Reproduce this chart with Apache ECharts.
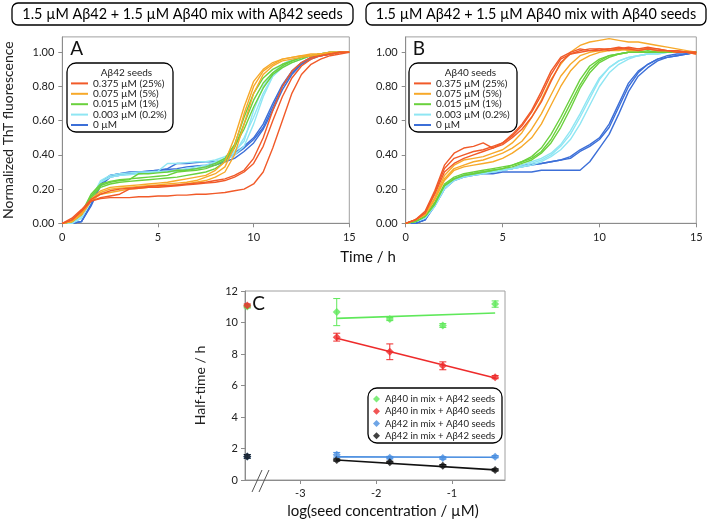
<!DOCTYPE html>
<html>
<head>
<meta charset="utf-8">
<title>ThT aggregation kinetics, Aβ42 + Aβ40 mix with seeds</title>
<script src="https://cdn.jsdelivr.net/npm/echarts@6.0.0/dist/echarts.min.js"></script>
<style>
  html, body { margin: 0; padding: 0; background: #fff; }
  #chart { width: 708px; height: 521px; }
</style>
</head>
<body>
<div id="chart"></div>
<script>
// time axis shared by every kinetic trace (h)
const hours = [0, 0.5, 1, 1.5, 2, 2.5, 3, 3.5, 4, 4.5, 5, 5.5, 6, 6.5, 7, 7.5, 8, 8.5, 9, 9.5, 10, 10.5, 11, 11.5, 12, 12.5, 13, 13.5, 14, 14.5, 15]

const seedLabels = ['0.375 µM (25%)', '0.075 µM (5%)', '0.015 µM (1%)', '0.003 µM (0.2%)', '0 µM']
const seedColors = ['#f15a29', '#f7a92a', '#6ad13d', '#8fe6f3', '#3c6fd8']
const fracTicks = [0, 0.2, 0.4, 0.6, 0.8, 1.0]

// panel A: Aβ42 seeds, three replicates per seed level
const aRed = [
  [0, .02, .07, .13, .145, .15, .15, .15, .155, .155, .16, .16, .165, .165, .17, .17, .175, .18, .19, .20, .23, .30, .44, .60, .76, .87, .93, .96, .98, .99, 1.0],
  [0, .02, .07, .13, .15, .16, .17, .20, .205, .21, .21, .215, .22, .225, .23, .235, .24, .25, .27, .30, .35, .45, .60, .74, .85, .92, .96, .98, .99, 1.0, 1.0],
  [0, .03, .08, .14, .17, .19, .20, .205, .21, .215, .22, .22, .225, .23, .235, .24, .25, .26, .28, .31, .38, .50, .66, .80, .89, .94, .97, .98, .99, 1.0, 1.0]
]
const aOrange = [
  [0, .01, .05, .13, .17, .18, .19, .20, .205, .21, .215, .22, .225, .23, .24, .25, .27, .30, .40, .58, .76, .87, .92, .95, .96, .97, .98, .99, .99, 1.0, 1.0],
  [0, .01, .05, .13, .18, .20, .205, .21, .215, .22, .225, .23, .235, .24, .25, .27, .29, .33, .45, .64, .80, .89, .93, .96, .97, .98, .98, .99, 1.0, 1.0, 1.0],
  [0, .01, .06, .14, .19, .21, .215, .22, .225, .23, .235, .24, .25, .26, .27, .28, .31, .36, .50, .68, .83, .90, .94, .96, .97, .98, .99, .99, 1.0, 1.0, 1.0]
]
const aGreen = [
  [0, .01, .05, .15, .21, .23, .24, .245, .25, .255, .26, .265, .27, .28, .29, .30, .32, .36, .44, .58, .72, .82, .88, .92, .95, .97, .98, .99, .99, 1.0, 1.0],
  [0, .01, .05, .16, .22, .24, .25, .255, .29, .29, .295, .30, .31, .31, .32, .33, .35, .38, .46, .62, .76, .85, .90, .93, .95, .97, .98, .99, 1.0, 1.0, 1.0],
  [0, .01, .06, .17, .23, .245, .255, .26, .265, .27, .275, .28, .30, .305, .31, .32, .34, .37, .45, .55, .68, .79, .87, .91, .94, .96, .98, .99, .99, 1.0, 1.0]
]
const aCyan = [
  [0, 0, .03, .13, .24, .27, .28, .285, .29, .295, .30, .30, .305, .31, .32, .33, .35, .37, .40, .45, .58, .74, .86, .92, .95, .97, .98, .99, 1.0, 1.0, 1.0],
  [0, 0, .03, .14, .25, .28, .29, .295, .30, .30, .305, .35, .35, .355, .36, .36, .37, .39, .42, .48, .66, .80, .88, .93, .96, .97, .98, .99, 1.0, 1.0, 1.0],
  [0, 0, .04, .14, .24, .27, .28, .285, .29, .295, .30, .305, .31, .32, .33, .34, .36, .38, .41, .50, .62, .76, .86, .91, .94, .96, .98, .99, .99, 1.0, 1.0]
]
const aBlue = [
  [0, 0, .01, .10, .22, .27, .28, .29, .295, .30, .30, .305, .31, .315, .32, .33, .34, .36, .38, .42, .47, .55, .66, .78, .87, .93, .97, .98, .99, 1.0, 1.0],
  [0, 0, .01, .11, .24, .28, .29, .30, .30, .305, .31, .32, .35, .35, .355, .36, .36, .37, .40, .44, .49, .56, .68, .80, .88, .93, .96, .98, .99, 1.0, 1.0],
  [0, 0, .01, .11, .23, .28, .29, .295, .30, .305, .31, .315, .32, .33, .335, .34, .35, .37, .41, .45, .50, .58, .70, .81, .89, .94, .97, .99, 1.0, 1.0, 1.0]
]

// panel B: Aβ40 seeds
const bRed = [
  [0, .02, .07, .19, .34, .41, .44, .45, .47, .44, .47, .52, .58, .66, .77, .89, .97, 1.0, 1.02, 1.01, 1.02, 1.02, 1.03, 1.02, 1.02, 1.03, 1.02, 1.01, 1.01, 1.0, 1.0],
  [0, .02, .06, .18, .32, .38, .40, .42, .43, .45, .47, .51, .57, .65, .75, .87, .96, .99, 1.01, 1.02, 1.02, 1.01, 1.02, 1.03, 1.02, 1.02, 1.02, 1.01, 1.01, 1.0, 1.0],
  [0, .02, .06, .17, .30, .35, .38, .40, .42, .44, .46, .50, .55, .62, .71, .83, .94, .99, 1.0, 1.01, 1.01, 1.02, 1.02, 1.02, 1.01, 1.02, 1.01, 1.01, 1.0, 1.0, .99]
]
const bOrange = [
  [0, .02, .05, .15, .28, .34, .37, .38, .39, .41, .43, .47, .53, .62, .72, .84, .93, 1.0, 1.04, 1.06, 1.07, 1.08, 1.07, 1.06, 1.06, 1.05, 1.04, 1.03, 1.02, 1.01, 1.0],
  [0, .02, .05, .14, .26, .32, .34, .36, .37, .39, .41, .44, .48, .55, .64, .75, .86, .93, .98, 1.0, 1.01, 1.02, 1.02, 1.01, 1.01, 1.02, 1.01, 1.01, 1.0, 1.0, 1.0],
  [0, .02, .05, .14, .25, .31, .33, .34, .35, .36, .38, .41, .45, .50, .58, .69, .80, .89, .95, .98, 1.0, 1.01, 1.01, 1.02, 1.01, 1.02, 1.01, 1.01, 1.0, 1.0, .99]
]
const bGreen = [
  [0, .01, .04, .12, .23, .27, .29, .30, .31, .32, .33, .34, .36, .39, .44, .52, .62, .73, .84, .92, .96, .98, .99, 1.0, 1.0, 1.0, 1.01, 1.0, 1.0, 1.0, 1.0],
  [0, .01, .04, .12, .22, .26, .28, .29, .30, .31, .32, .33, .35, .37, .41, .47, .56, .67, .79, .88, .94, .97, .99, 1.0, 1.0, 1.01, 1.0, 1.0, 1.0, 1.0, 1.0],
  [0, .01, .04, .11, .22, .26, .28, .29, .30, .31, .32, .34, .36, .38, .42, .49, .59, .70, .81, .90, .95, .98, .99, 1.0, 1.0, 1.0, 1.0, 1.0, 1.0, 1.0, 1.0]
]
const bCyan = [
  [0, .01, .03, .10, .21, .26, .28, .29, .30, .30, .31, .32, .33, .35, .37, .40, .45, .52, .62, .73, .84, .91, .95, .97, .98, .99, .99, 1.0, 1.0, 1.0, 1.0],
  [0, .01, .03, .10, .20, .25, .27, .28, .29, .30, .31, .32, .33, .34, .36, .39, .43, .49, .58, .69, .80, .88, .93, .96, .98, .99, .99, 1.0, 1.0, 1.0, 1.0],
  [0, .01, .03, .11, .21, .26, .28, .29, .30, .31, .31, .32, .34, .36, .38, .41, .46, .54, .64, .75, .85, .91, .95, .97, .98, .99, 1.0, 1.0, 1.0, 1.0, 1.0]
]
const bBlue = [
  [0, 0, .02, .10, .20, .25, .27, .28, .29, .29, .30, .30, .30, .30, .31, .31, .31, .31, .31, .36, .44, .52, .64, .77, .86, .91, .95, .97, .98, .99, 1.0],
  [0, 0, .02, .11, .21, .26, .28, .29, .30, .30, .31, .32, .34, .345, .35, .36, .37, .38, .42, .45, .49, .56, .68, .80, .88, .93, .96, .97, .98, .99, 1.0],
  [0, 0, .02, .11, .21, .26, .28, .29, .30, .305, .31, .32, .33, .34, .35, .36, .37, .39, .43, .46, .50, .58, .70, .82, .89, .93, .96, .98, .99, .99, 1.0]
]

// panel C: half-times vs log(seed concentration)
const logConc = [-2.52, -1.82, -1.12, -0.43]
const noSeedX = -3.7   // 0 µM seeds, drawn left of the axis break
const halfAb40Ab42 = [10.66, 10.22, 9.81, 11.17]
const errAb40Ab42 = [0.86, 0.1, 0.12, 0.2]
const halfAb40Ab40 = [9.07, 8.14, 7.25, 6.53]
const errAb40Ab40 = [0.25, 0.5, 0.25, 0.1]
const halfAb42Ab40 = [1.6, 1.42, 1.4, 1.48]
const errAb42Ab40 = [0.15, 0.08, 0.08, 0.07]
const halfAb42Ab42 = [1.27, 1.12, 0.91, 0.64]
const errAb42Ab42 = [0.07, 0.07, 0.07, 0.07]
const noSeedAb40 = [11.02, 11.08]  // green, red
const noSeedAb42 = [1.5, 1.5]      // blue, black
const noSeedErr = [0.1, 0.12]
const fitX = [-2.52, -0.43]
const fitAb40Ab42 = [10.26, 10.6]
const fitAb40Ab40 = [9.0, 6.48]
const fitAb42Ab40 = [1.47, 1.44]
const fitAb42Ab42 = [1.27, 0.64]

const cNames = ['Aβ40 in mix + Aβ42 seeds', 'Aβ40 in mix + Aβ40 seeds', 'Aβ42 in mix + Aβ40 seeds', 'Aβ42 in mix + Aβ42 seeds']
const cColors = ['#5fe85a', '#ee2b2b', '#4a8ee0', '#111111']

const chart = echarts.init(document.getElementById('chart'), null, { renderer: 'canvas' })
const font = 'Lato, "Noto Sans", sans-serif'
const gray = '#8c8c8c'
const ink = '#222'

function kineticSeries(axisIndex, groups) {
  let out = []
  // blue first so the seeded traces sit on top
  for (let g = groups.length - 1; g >= 0; g--) {
    groups[g].forEach(rep => {
      out.push({
        type: 'line',
        name: seedLabels[g],
        xAxisIndex: axisIndex,
        yAxisIndex: axisIndex,
        showSymbol: false,
        symbol: 'none',
        color: seedColors[g],
        lineStyle: { width: 1.4, color: seedColors[g] },
        data: hours.map((t, i) => [t, rep[i]])
      })
    })
  }
  return out
}

function errorBars(color) {
  return function (params, api) {
    const x = api.value(0), y = api.value(1), e = api.value(2)
    const hi = api.coord([x, y + e])
    const lo = api.coord([x, y - e])
    const w = 3.5
    const style = { stroke: color, lineWidth: 1 }
    return {
      type: 'group',
      children: [
        { type: 'line', shape: { x1: hi[0], y1: hi[1], x2: lo[0], y2: lo[1] }, style: style },
        { type: 'line', shape: { x1: hi[0] - w, y1: hi[1], x2: hi[0] + w, y2: hi[1] }, style: style },
        { type: 'line', shape: { x1: lo[0] - w, y1: lo[1], x2: lo[0] + w, y2: lo[1] }, style: style }
      ]
    }
  }
}

function halfTimeSeries(idx, halves, errs, noSeed, noErr, fit) {
  const pts = [[noSeedX, noSeed]].concat(logConc.map((x, i) => [x, halves[i]]))
  const errPts = [[noSeedX, noSeed, noErr]].concat(logConc.map((x, i) => [x, halves[i], errs[i]]))
  return [
    {
      type: 'line', name: 'fit ' + idx, xAxisIndex: 2, yAxisIndex: 2,
      symbol: 'none', lineStyle: { width: 1.6, color: cColors[idx] },
      data: fitX.map((x, i) => [x, fit[i]])
    },
    {
      type: 'custom', name: 'err ' + idx, xAxisIndex: 2, yAxisIndex: 2, clip: false,
      renderItem: errorBars(cColors[idx]), encode: { x: 0, y: 1 },
      data: errPts
    },
    {
      type: 'scatter', name: cNames[idx], xAxisIndex: 2, yAxisIndex: 2, clip: false,
      symbol: 'diamond', symbolSize: 8, itemStyle: { color: cColors[idx] },
      data: pts
    }
  ]
}

function timeAxis(idx) {
  return {
    type: 'value', gridIndex: idx, min: 0, max: 15, interval: 5,
    axisLine: { show: true, lineStyle: { color: gray } },
    axisTick: { show: true, length: 4, lineStyle: { color: gray } },
    axisLabel: { fontSize: 11, color: ink, margin: 9, fontFamily: font },
    splitLine: { show: false }
  }
}

function fracAxis(idx, name) {
  return {
    type: 'value', gridIndex: idx, min: 0, max: 1.09,
    name: name, nameLocation: 'middle', nameGap: 47, nameRotate: 90,
    nameTextStyle: { fontSize: 14, color: ink, fontFamily: font },
    axisLine: { show: true, lineStyle: { color: gray } },
    axisTick: { show: true, length: 4, customValues: fracTicks, lineStyle: { color: gray } },
    axisLabel: { fontSize: 11, color: ink, margin: 8, fontFamily: font, customValues: fracTicks, formatter: v => v.toFixed(2) },
    splitLine: { show: false }
  }
}

function titleBox(x, w, text) {
  return {
    type: 'group', children: [
      { type: 'rect', shape: { x: x, y: 3, width: w, height: 22, r: 6 }, style: { fill: '#fff', stroke: '#000', lineWidth: 1.3 } },
      { type: 'text', x: x + w / 2, y: 14.5, style: { text: text, fontSize: 14.4, fontFamily: font, fill: '#000', align: 'center', verticalAlign: 'middle' } }
    ]
  }
}

function legendBox(x, y, w, h, title, tx) {
  return {
    type: 'group', z: 10, children: [
      { type: 'rect', z: 10, shape: { x: x, y: y, width: w, height: h, r: 9 }, style: { fill: '#fff', stroke: '#000', lineWidth: 1.3 } },
      { type: 'text', z: 11, x: tx, y: y + 9.5, style: { text: title, fontSize: 10, fontFamily: font, fill: ink, align: 'center', verticalAlign: 'middle' } }
    ]
  }
}

function label(text, x, y, size, rot) {
  return { type: 'text', x: x, y: y, rotation: rot || 0, style: { text: text, fontSize: size, fontFamily: font, fill: '#111', align: 'center', verticalAlign: 'middle' } }
}

const kineticLegend = (left) => ({
  data: seedLabels, left: left, top: 78.2, orient: 'vertical', z: 20, padding: 0,
  icon: 'rect', itemWidth: 17, itemHeight: 2, itemGap: 0, selectedMode: false,
  textStyle: { fontSize: 10, lineHeight: 10.4, color: ink, fontFamily: font }
})

const series = []
  .concat(kineticSeries(0, [aRed, aOrange, aGreen, aCyan, aBlue]))
  .concat(kineticSeries(1, [bRed, bOrange, bGreen, bCyan, bBlue]))
  .concat(halfTimeSeries(0, halfAb40Ab42, errAb40Ab42, noSeedAb40[0], noSeedErr[0], fitAb40Ab42))
  .concat(halfTimeSeries(1, halfAb40Ab40, errAb40Ab40, noSeedAb40[1], noSeedErr[0], fitAb40Ab40))
  .concat(halfTimeSeries(2, halfAb42Ab40, errAb42Ab40, noSeedAb42[0], noSeedErr[1], fitAb42Ab40))
  .concat(halfTimeSeries(3, halfAb42Ab42, errAb42Ab42, noSeedAb42[1], noSeedErr[1], fitAb42Ab42))

const option = {
  animation: false,
  backgroundColor: '#fff',
  textStyle: { fontFamily: font },
  grid: [
    { left: 62.3, top: 36.9, width: 287, height: 186.4, show: true, borderColor: '#a0a0a0', borderWidth: 1 },
    { left: 405.7, top: 36.9, width: 290.6, height: 186.4, show: true, borderColor: '#a0a0a0', borderWidth: 1 },
    { left: 245, top: 291, width: 260, height: 189, show: true, borderColor: '#a0a0a0', borderWidth: 1 }
  ],
  xAxis: [
    timeAxis(0),
    timeAxis(1),
    {
      type: 'value', gridIndex: 2, min: -3.73, max: -0.3,
      axisLine: { show: true, onZero: false, lineStyle: { color: gray } },
      axisTick: { show: true, length: 4, customValues: [-3, -2, -1], lineStyle: { color: gray } },
      axisLabel: { fontSize: 11, color: ink, margin: 8, fontFamily: font, customValues: [-3, -2, -1] },
      splitLine: { show: false }
    }
  ],
  yAxis: [
    fracAxis(0, 'Normalized ThT fluorescence'),
    fracAxis(1, ''),
    {
      type: 'value', gridIndex: 2, min: 0, max: 12, interval: 2,
      name: 'Half-time / h', nameLocation: 'middle', nameGap: 38, nameRotate: 90,
      nameTextStyle: { fontSize: 14, color: ink, fontFamily: font },
      axisLine: { show: true, lineStyle: { color: gray } },
      axisTick: { show: true, length: 4, lineStyle: { color: gray } },
      axisLabel: { fontSize: 11, color: ink, margin: 7, fontFamily: font },
      splitLine: { show: false }
    }
  ],
  legend: [
    kineticLegend(71),
    kineticLegend(414),
    {
      data: cNames, left: 373, top: 392.8, orient: 'vertical', z: 20, padding: 0,
      icon: 'diamond', itemWidth: 7, itemHeight: 7, itemGap: 0, selectedMode: false,
      textStyle: { fontSize: 9.6, lineHeight: 12.3, color: ink, fontFamily: font }
    }
  ],
  graphic: [
    titleBox(12, 341, '1.5 µM Aβ42 + 1.5 µM Aβ40 mix with Aβ42 seeds'),
    titleBox(366, 340, '1.5 µM Aβ42 + 1.5 µM Aβ40 mix with Aβ40 seeds'),
    legendBox(67, 63, 106, 69, 'Aβ42 seeds', 126.5),
    legendBox(409, 63, 108, 69, 'Aβ40 seeds', 470.5),
    {
      type: 'rect', z: 10, shape: { x: 368, y: 388, width: 134, height: 55, r: 9 },
      style: { fill: '#fff', stroke: '#000', lineWidth: 1.3 }
    },
    label('A', 76.7, 48.5, 19),
    label('B', 419, 48.5, 19),
    label('C', 258.5, 304, 19),
    label('Time / h', 368, 257, 15),
    label('log(seed concentration / µM)', 383, 511, 15),
    // axis break marks on panel C
    { type: 'line', z: 30, shape: { x1: 252, y1: 492, x2: 262, y2: 470 }, style: { stroke: '#555', lineWidth: 1 } },
    { type: 'line', z: 30, shape: { x1: 259, y1: 492, x2: 269, y2: 470 }, style: { stroke: '#555', lineWidth: 1 } }
  ],
  series: series
}

chart.setOption(option)
</script>
</body>
</html>
